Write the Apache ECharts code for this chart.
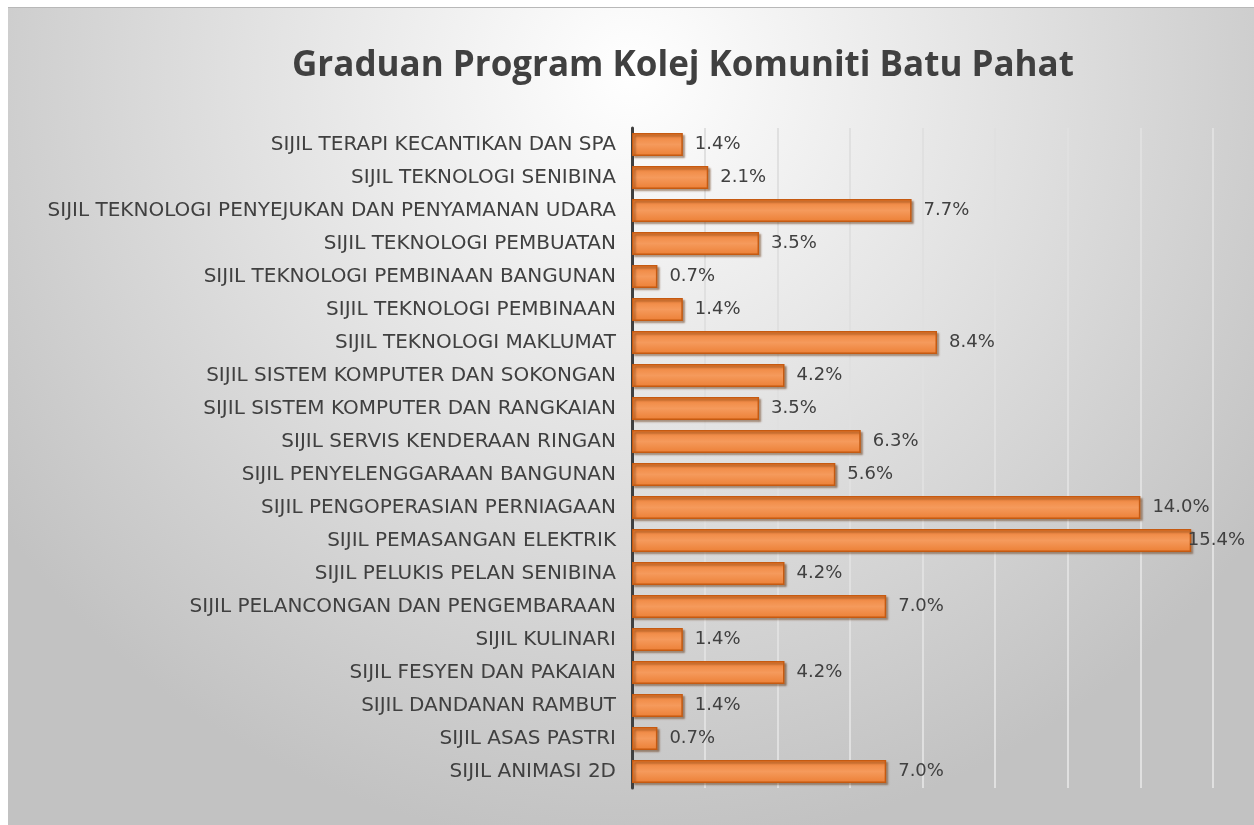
<!DOCTYPE html>
<html>
<head>
<meta charset="utf-8">
<script src="https://cdn.jsdelivr.net/npm/echarts@6/dist/echarts.min.js"></script>
<style>
    html, body { margin: 0; padding: 0; background: #ffffff; }
    #chart { position: absolute; left: 8px; top: 7px; width: 1246px; height: 818px; border-top: 1px solid #b8b8b8; box-sizing: border-box; }
</style>
</head>
<body>
<div id="chart"></div>
<script>
// bottom to top, as the category axis draws them
var programmes = [
    'SIJIL ANIMASI 2D',
    'SIJIL ASAS PASTRI',
    'SIJIL DANDANAN RAMBUT',
    'SIJIL FESYEN DAN PAKAIAN',
    'SIJIL KULINARI',
    'SIJIL PELANCONGAN DAN PENGEMBARAAN',
    'SIJIL PELUKIS PELAN SENIBINA',
    'SIJIL PEMASANGAN ELEKTRIK',
    'SIJIL PENGOPERASIAN PERNIAGAAN',
    'SIJIL PENYELENGGARAAN BANGUNAN',
    'SIJIL SERVIS KENDERAAN RINGAN',
    'SIJIL SISTEM KOMPUTER DAN RANGKAIAN',
    'SIJIL SISTEM KOMPUTER DAN SOKONGAN',
    'SIJIL TEKNOLOGI MAKLUMAT',
    'SIJIL TEKNOLOGI PEMBINAAN',
    'SIJIL TEKNOLOGI PEMBINAAN BANGUNAN',
    'SIJIL TEKNOLOGI PEMBUATAN',
    'SIJIL TEKNOLOGI PENYEJUKAN DAN PENYAMANAN UDARA',
    'SIJIL TEKNOLOGI SENIBINA',
    'SIJIL TERAPI KECANTIKAN DAN SPA'
];
var percentages = [7.0, 0.7, 1.4, 4.2, 1.4, 7.0, 4.2, 15.4, 14.0, 5.6, 6.3, 3.5, 4.2, 8.4, 1.4, 0.7, 3.5, 7.7, 2.1, 1.4];

var TEXT_COLOR = '#404040';

var chart = echarts.init(document.getElementById('chart'));
var option = {
    backgroundColor: {
        type: 'radial', x: 0.5, y: 0.08, r: 0.95,
        colorStops: [
            { offset: 0, color: '#ffffff' },
            { offset: 0.45, color: '#e4e4e4' },
            { offset: 1, color: '#c2c2c2' }
        ]
    },
    title: {
        text: 'Graduan Program Kolej Komuniti Batu Pahat',
        left: 279,
        top: 36,
        textStyle: {
            fontFamily: 'Open Sans',
            fontWeight: 'bold',
            fontSize: 35,
            color: TEXT_COLOR
        }
    },
    grid: {
        left: 624,
        top: 120,
        right: 41,
        height: 660
    },
    xAxis: {
        type: 'value',
        min: 0,
        max: 16,
        interval: 2,
        axisLabel: { show: false },
        axisTick: { show: false },
        axisLine: { show: false },
        splitLine: { lineStyle: { color: '#e0e0e0', width: 2 } }
    },
    yAxis: {
        type: 'category',
        data: programmes,
        offset: 3,
        axisTick: { show: false },
        axisLine: { lineStyle: { color: TEXT_COLOR, width: 3 } },
        axisLabel: {
            margin: 13,
            fontFamily: 'DejaVu Sans',
            fontSize: 20,
            color: TEXT_COLOR
        }
    },
    series: [{
        type: 'bar',
        data: percentages,
        barWidth: 23,
        itemStyle: {
            color: {
                type: 'linear', x: 0, y: 0, x2: 0, y2: 1,
                colorStops: [
                    { offset: 0, color: '#ee8238' },
                    { offset: 0.5, color: '#f59a5c' },
                    { offset: 1, color: '#ec7f35' }
                ]
            },
            borderColor: '#c55a11',
            borderWidth: 1.5,
            shadowColor: 'rgba(90,40,0,0.45)',
            shadowOffsetX: 2,
            shadowOffsetY: 2,
            shadowBlur: 2
        },
        label: {
            show: true,
            position: 'right',
            distance: 12,
            fontFamily: 'DejaVu Sans',
            fontSize: 18,
            color: TEXT_COLOR,
            formatter: function (p) { return p.value.toFixed(1) + '%'; }
        },
        // keep the longest bar's label inside the frame, like the original
        labelLayout: function (params) {
            var r = params.labelRect;
            var limit = chart.getWidth() - 9;
            if (r.x + r.width > limit) {
                return { dx: limit - (r.x + r.width) };
            }
            return {};
        }
    }]
};
chart.setOption(option);
</script>
</body>
</html>
